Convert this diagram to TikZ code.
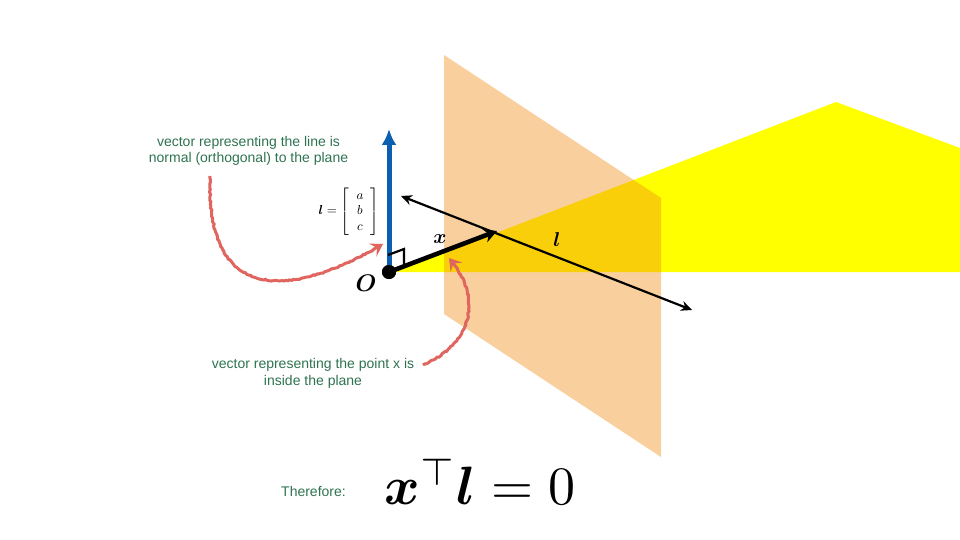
\documentclass[tikz,border=0pt]{standalone}
\usepackage{amsmath,amssymb}
\usepackage{fontspec}
\setmainfont{Liberation Sans}
\usepackage{xcolor}
\usetikzlibrary{arrows.meta,decorations.pathmorphing}
\definecolor{planeY}{HTML}{FFFF00}
\definecolor{planeO}{HTML}{F08C14}
\definecolor{note}{HTML}{2E7350}
\definecolor{normal}{HTML}{0B5FB0}
\definecolor{sketch}{HTML}{E0655F}

\begin{document}
\begin{tikzpicture}[
  x=1pt, y=-1pt,
  lab/.style={font=\fontsize{14}{16.6}\selectfont, text=note, align=center, inner sep=0pt},
  sym/.style={inner sep=0pt, scale=2},
  arr/.style={line width=2.2pt},
  hand/.style={-{Stealth[length=12pt,width=15pt,inset=5pt]}, sketch, line width=3pt,
    decoration={random steps,segment length=2pt,amplitude=.6pt,post length=8pt}, decorate}]
\useasboundingbox (0,0) rectangle (960,540);

% the two planes
\fill[planeY] (395,272) -- (836,102) -- (960,148) -- (960,272) -- cycle;
\fill[planeO, opacity=.415] (444,55) -- (661,198) -- (661,457) -- (444,314) -- cycle;

\node[circle, fill=black, minimum size=14pt, inner sep=0pt] (org) at (389,272) {};
\coordinate (nrmtip) at (389,129);
\coordinate (xtip) at (497,231);
\coordinate (lstart) at (401,196);
\coordinate (lend) at (692,310);
\coordinate (c1) at (388,255);
\coordinate (c2) at (404,249);
\coordinate (c3) at (404,265);

\draw[-{Latex[length=16pt,width=15pt]}, normal, line width=5pt] (org.center) -- (nrmtip);
\draw[line width=2.2pt] (c1) -- (c2) -- (c3);
\node[circle, fill=black, minimum size=14pt, inner sep=0pt] at (org) {};
\draw[-{Stealth[length=13pt,width=14pt]}, line width=4.6pt] (org.center) -- (xtip);
\draw[arr, {Stealth[length=11pt,width=10pt]}-{Stealth[length=11pt,width=10pt]}] (lstart) -- (lend);

% labels
\node[sym, scale=1.2] (olab) at (366,283) {$\boldsymbol{O}$};
\node[sym] (xlab) at (440,239) {$\boldsymbol{x}$};
\node[sym] (llab) at (557,240) {$\boldsymbol{l}$};
\node[inner sep=0pt, scale=1.3] (mat) at (349,211.5) {$\boldsymbol{l}=\begin{bmatrix}\;\;a\;\;\\ \;\;b\;\;\\ \;\;c\;\;\end{bmatrix}$};

\node[lab] (top) at (248.5,151) {vector representing the line is\\ normal (orthogonal) to the plane};
\node[lab] (low) at (313,373.5) {vector representing the point x is\\ inside the plane};
\node[lab, anchor=west] (ther) at (281,491) {Therefore:};
\node[inner sep=0pt, scale=5.4, anchor=center] (eqn) at (480,482) {$\boldsymbol{x}^{\top}\boldsymbol{l}=0$};

% hand drawn pointers
\coordinate (p1a) at (210,176);
\coordinate (p1b) at (383,244);
\coordinate (p2a) at (423,365);
\coordinate (p2b) at (449,258);
\draw[hand] (p1a) .. controls +(-5,150) and +(-63,38) .. (p1b);
\draw[hand] (p2a) .. controls +(47,-20) and +(36,42) .. (p2b);
\end{tikzpicture}
\end{document}
